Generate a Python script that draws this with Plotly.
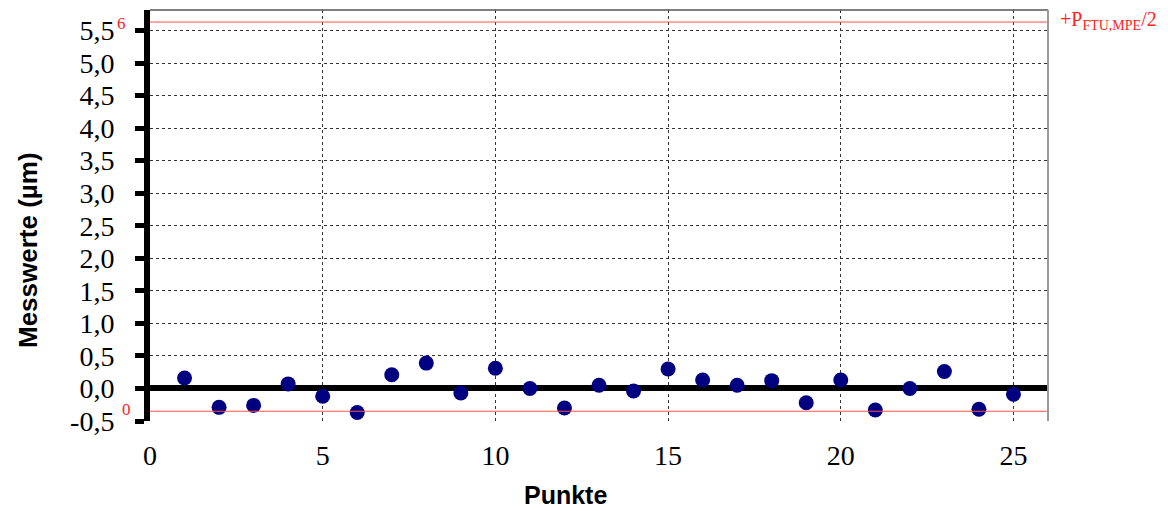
import plotly.graph_objects as go

punkte = list(range(1, 26))
messwerte = [0.16, -0.29, -0.26, 0.07, -0.12, -0.37, 0.21, 0.39, -0.07, 0.31,
             0.00, -0.30, 0.05, -0.04, 0.30, 0.13, 0.05, 0.12, -0.22, 0.13,
             -0.33, 0.00, 0.26, -0.32, -0.09]
upper_limit = 5.63
lower_limit = -0.35
y_tickvals = [-0.5, 0.0, 0.5, 1.0, 1.5, 2.0, 2.5, 3.0, 3.5, 4.0, 4.5, 5.0, 5.5]
y_ticktext = ["-0,5", "0,0", "0,5", "1,0", "1,5", "2,0", "2,5", "3,0", "3,5", "4,0", "4,5", "5,0", "5,5"]
x_tickvals = [0, 5, 10, 15, 20, 25]
x_ticktext = ["0", "5", "10", "15", "20", "25"]

serif = "Times New Roman, Liberation Serif, serif"
sans = "Arial, Liberation Sans, sans-serif"

fig = go.Figure()
fig.add_trace(go.Scatter(x=punkte, y=messwerte, mode="markers",
                         marker=dict(color="#000080", size=15, line=dict(width=0)),
                         showlegend=False))

for val in (upper_limit, lower_limit):
    fig.add_shape(type="line", xref="paper", x0=0, x1=1, yref="y", y0=val, y1=val,
                  line=dict(color="#ff5050", width=1), layer="above")

fig.add_shape(type="line", xref="paper", yref="paper", x0=0, x1=1, y0=1, y1=1,
              line=dict(color="#555555", width=1.5))
fig.add_shape(type="line", xref="paper", yref="paper", x0=1, x1=1, y0=0, y1=1,
              line=dict(color="#999999", width=2))

fig.add_annotation(text="+P<sub>FTU,MPE</sub>/2", xref="paper", x=1, xanchor="left", xshift=10,
                   yref="y", y=upper_limit, yanchor="middle", yshift=2, showarrow=False,
                   font=dict(family=serif, size=20, color="#ff2020"))
fig.add_annotation(text="6", xref="paper", x=0, xanchor="left", xshift=-35,
                   yref="y", y=upper_limit, yanchor="middle", yshift=-1, showarrow=False,
                   font=dict(family=serif, size=17, color="#ff2020"))
fig.add_annotation(text="0", xref="paper", x=0, xanchor="left", xshift=-30,
                   yref="y", y=lower_limit, yanchor="middle", yshift=2, showarrow=False,
                   font=dict(family=serif, size=17, color="#ff2020"))

fig.add_annotation(text="<b>Messwerte (µm)</b>", xref="paper", x=0, xshift=-122, xanchor="center",
                   yref="paper", y=0.416, textangle=-90, showarrow=False,
                   font=dict(family=sans, size=26, color="black"))
fig.add_annotation(text="<b>Punkte</b>", xref="paper", x=0.463, xanchor="center",
                   yref="paper", y=0, yshift=-74, yanchor="middle", showarrow=False,
                   font=dict(family=sans, size=25, color="black"))

fig.update_layout(
    width=1160, height=503,
    margin=dict(l=142, r=120, t=2, b=90),
    font=dict(family=serif, size=28, color="black"),
    plot_bgcolor="white", paper_bgcolor="white",
    xaxis=dict(range=[0, 26], tickvals=x_tickvals, ticktext=x_ticktext,
               showgrid=True, gridcolor="#333333", griddash="dot", gridwidth=1,
               zeroline=False, showline=False, ticks="",
               ticklabelstandoff=15,
               tickfont=dict(family=serif, size=28, color="black")),
    yaxis=dict(range=[-0.5, 5.815], tickvals=y_tickvals, ticktext=y_ticktext,
               showgrid=True, gridcolor="#333333", griddash="dot", gridwidth=1,
               zeroline=True, zerolinecolor="black", zerolinewidth=6,
               showline=True, linecolor="black", linewidth=6,
               ticks="outside", ticklen=9, tickwidth=5, tickcolor="black",
               ticklabelstandoff=15,
               tickfont=dict(family=serif, size=28, color="black")),
)
fig.write_html("out.html")
